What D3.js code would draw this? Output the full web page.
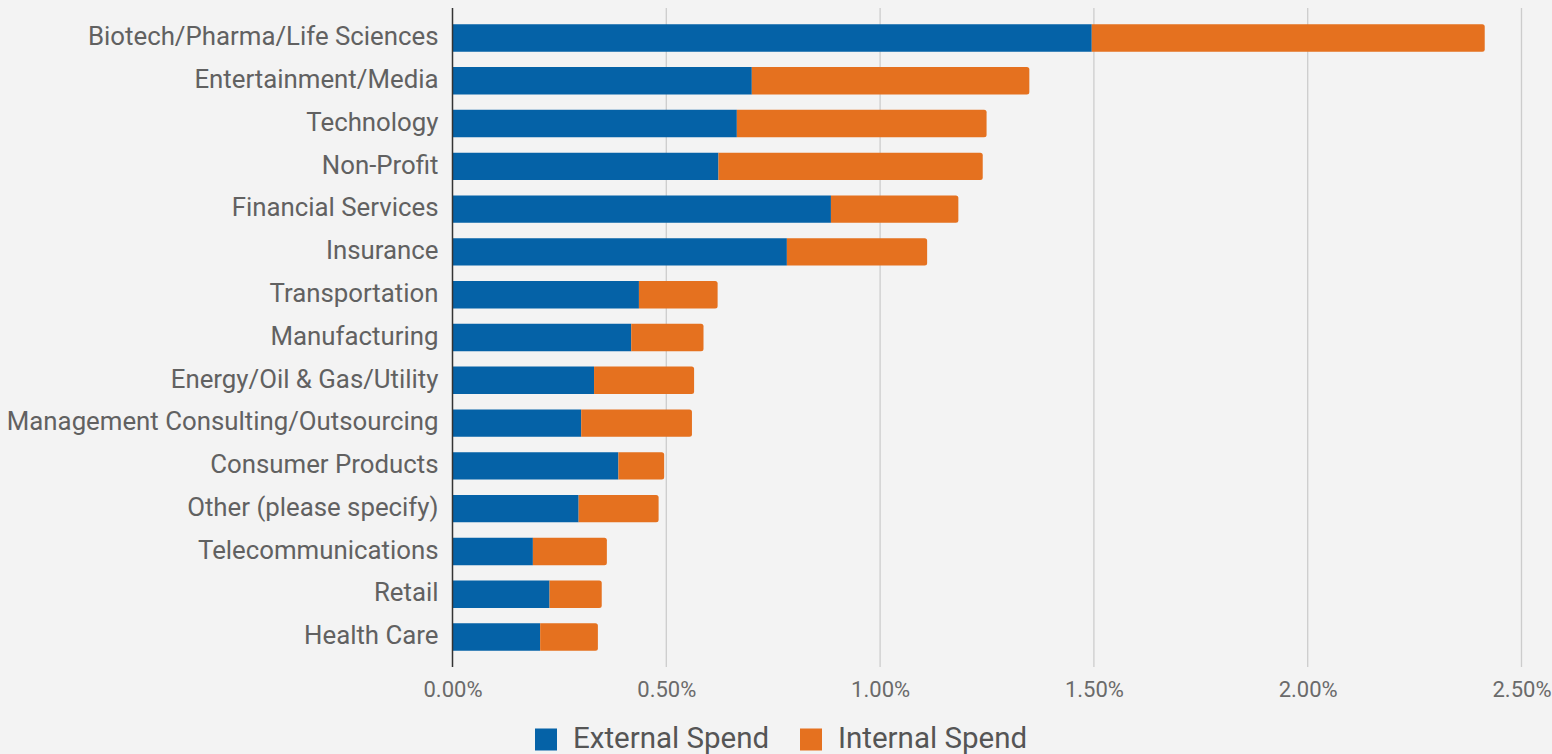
<!DOCTYPE html>
<html>
<head>
<meta charset="utf-8">
<script src="https://cdn.jsdelivr.net/npm/d3@7"></script>
<style>
  html, body { margin: 0; padding: 0; background: #f3f3f3; }
  svg { display: block; }
  text { font-family: Roboto, "Noto Sans", sans-serif; }
</style>
</head>
<body>
<svg id="chart" width="1552" height="754"></svg>
<script>
// Industries, top to bottom
const categories = [
  "Biotech/Pharma/Life Sciences",
  "Entertainment/Media",
  "Technology",
  "Non-Profit",
  "Financial Services",
  "Insurance",
  "Transportation",
  "Manufacturing",
  "Energy/Oil & Gas/Utility",
  "Management Consulting/Outsourcing",
  "Consumer Products",
  "Other (please specify)",
  "Telecommunications",
  "Retail",
  "Health Care"
];

// Spend as a share of revenue (fractions)
const externalSpend = [
  0.01495, 0.00700, 0.00665, 0.00622, 0.00885, 0.00782, 0.00436, 0.00418,
  0.00331, 0.00301, 0.00388, 0.00295, 0.00188, 0.00227, 0.00205
];
const internalSpend = [
  0.00919, 0.00649, 0.00584, 0.00618, 0.00298, 0.00328, 0.00184, 0.00169,
  0.00234, 0.00259, 0.00107, 0.00187, 0.00173, 0.00122, 0.00135
];

const seriesNames = ["External Spend", "Internal Spend"];
const seriesColors = ["#0562a7", "#e5711f"];
const xTicks = [0, 0.005, 0.01, 0.015, 0.02, 0.025];

const rows = categories.map((c, i) => ({
  category: c,
  "External Spend": externalSpend[i],
  "Internal Spend": internalSpend[i]
}));

const svg = d3.select("#chart");
const plot = { left: 452.5, right: 1521.5, top: 8, bottom: 667 };

const x = d3.scaleLinear().domain([0, 0.025]).range([plot.left, plot.right]);
const y = d3.scaleBand()
  .domain(categories)
  .range([16.6, 658.4])
  .paddingInner(0.36)
  .paddingOuter(0.18);

// Vertical gridlines
svg.append("g")
  .selectAll("line")
  .data(xTicks.filter(t => t > 0))
  .join("line")
  .attr("x1", d => x(d)).attr("x2", d => x(d))
  .attr("y1", plot.top).attr("y2", plot.bottom)
  .attr("stroke", "#cccccc")
  .attr("stroke-width", 1.3);

// Stacked bars
const stacked = d3.stack().keys(seriesNames)(rows);

// Rectangle with only the right-hand corners rounded
function barPath(x0, x1, y0, h, r) {
  r = Math.min(r, (x1 - x0) / 2);
  return `M${x0},${y0}H${x1 - r}Q${x1},${y0} ${x1},${y0 + r}` +
         `V${y0 + h - r}Q${x1},${y0 + h} ${x1 - r},${y0 + h}H${x0}Z`;
}

svg.append("g")
  .selectAll("g")
  .data(stacked)
  .join("g")
  .attr("fill", (d, i) => seriesColors[i])
  .selectAll("path")
  .data((s, si) => s.map(p => ({ p, last: si === stacked.length - 1 })))
  .join("path")
  .attr("d", d => barPath(
    x(d.p[0]), x(d.p[1]), y(d.p.data.category), y.bandwidth(), d.last ? 2.5 : 0));

// Zero baseline
svg.append("line")
  .attr("x1", x(0)).attr("x2", x(0))
  .attr("y1", plot.top).attr("y2", plot.bottom)
  .attr("stroke", "#333333")
  .attr("stroke-width", 1.5);

// Category axis
const yAxis = svg.append("g")
  .attr("transform", `translate(${x(0) - 14},0)`)
  .call(d3.axisLeft(y).tickSize(0).tickPadding(0));
yAxis.select(".domain").remove();
yAxis.selectAll("text")
  .attr("fill", "#616161")
  .attr("font-size", 25.8)
  .attr("dy", "0.28em");

// Value axis
const xAxis = svg.append("g")
  .attr("transform", `translate(0,${plot.bottom})`)
  .call(d3.axisBottom(x).tickValues(xTicks).tickFormat(d3.format(".2%")).tickSize(0).tickPadding(14));
xAxis.select(".domain").remove();
xAxis.selectAll("text")
  .attr("fill", "#6a6a6a")
  .attr("font-size", 22);

// Legend
const legend = svg.append("g").attr("transform", "translate(535,739.5)");
const legendOffsets = [0, 265];
seriesNames.forEach((name, i) => {
  const g = legend.append("g").attr("transform", `translate(${legendOffsets[i]},0)`);
  g.append("rect")
    .attr("x", 0).attr("y", -11)
    .attr("width", 22).attr("height", 22)
    .attr("fill", seriesColors[i]);
  g.append("text")
    .attr("x", 38).attr("y", 8)
    .attr("fill", "#555555")
    .attr("font-size", 29.5)
    .text(name);
});
</script>
</body>
</html>
